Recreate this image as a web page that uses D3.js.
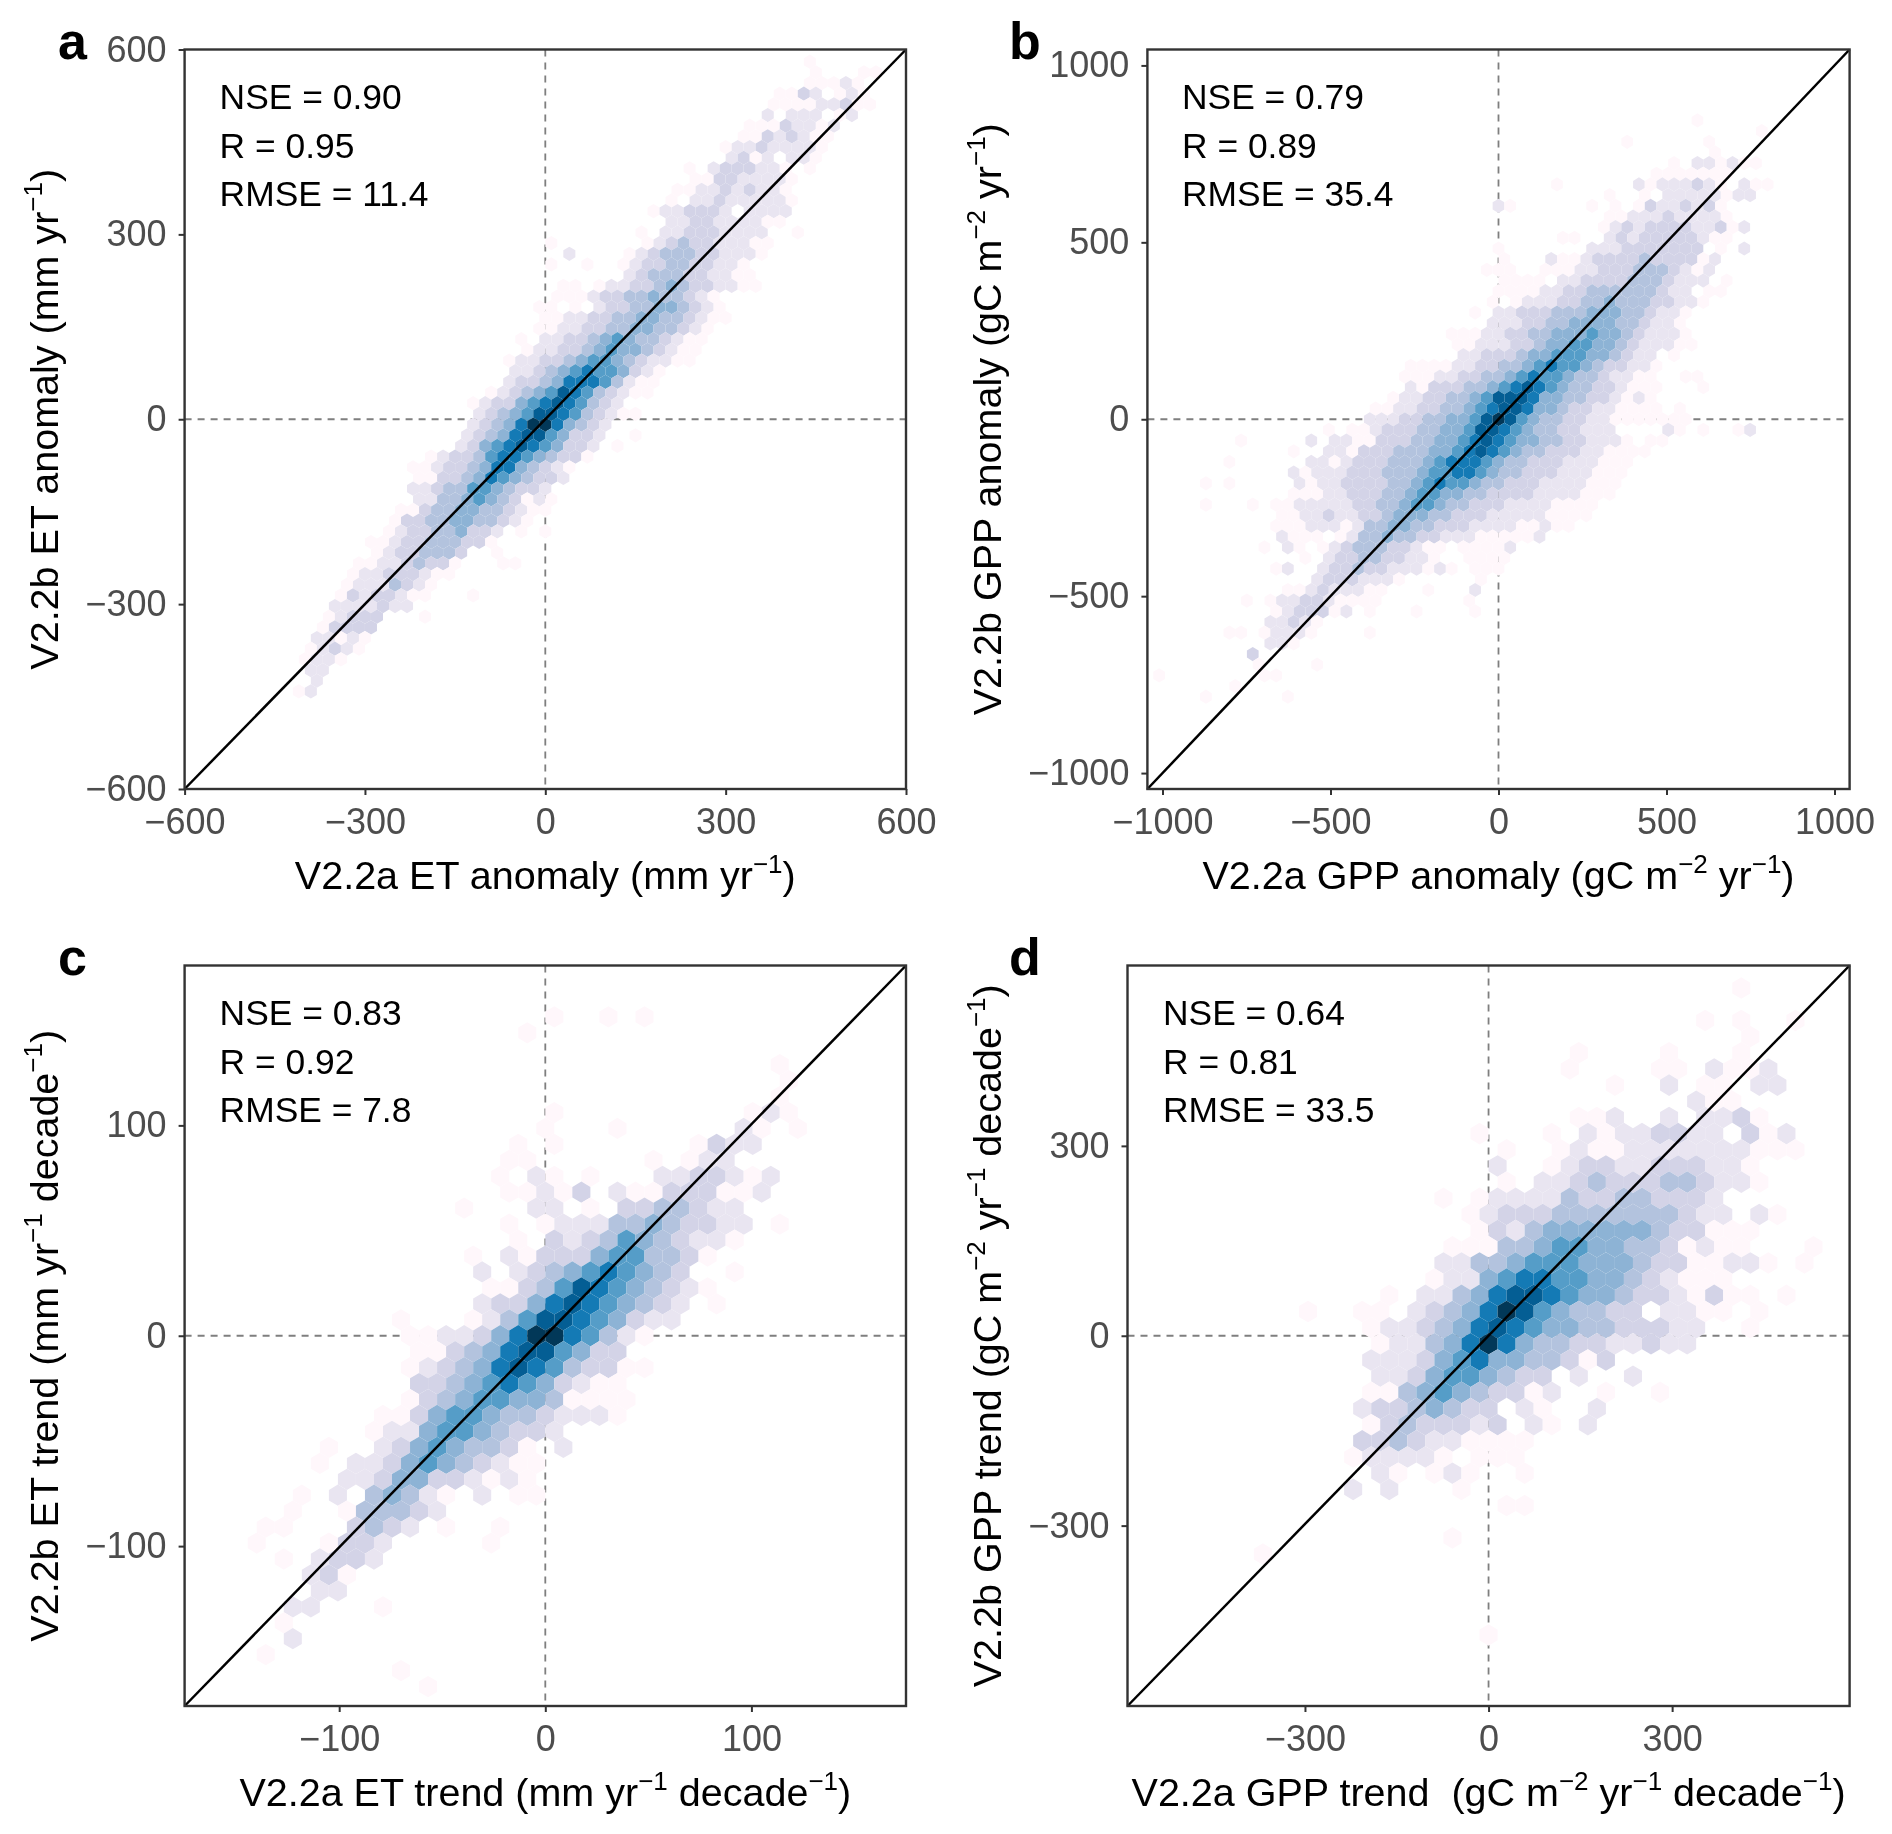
<!DOCTYPE html>
<html>
<head>
<meta charset="utf-8">
<title>V2.2a vs V2.2b</title>
<script src="https://cdn.jsdelivr.net/npm/d3@7"></script>
<style>
  html, body { margin: 0; background: #fff; }
  svg { filter: blur(0.5px); }
  text { font-family: "Liberation Sans", Arial, sans-serif; white-space: pre; }
</style>
</head>
<body>
<svg id="output"></svg>
<script>
// hex cells, one row chunk per entry: [row, first column, density level per column]
// level 0 = empty cell, 1..9 = steps of the PuBu ramp
const hexRowsA = [
  [33,22,"1"],[32,22,"1"],[32,26,"11"],[31,22,"11121"],[30,19,"11320121"],[29,19,"111122311"],
  [28,18,"20222012"],[27,17,"11132212"],[26,16,"11323211"],[25,15,"122322221"],[24,15,"23120221"],
  [23,12,"102333221"],[23,22,"1"],[22,12,"113322221"],[21,11,"1122323221"],[20,10,"10223222221"],
  [19,9,"122333202222"],[18,10,"2233222211"],[17,8,"10223332222001"],[16,0,"1"],[16,8,"12343322211"],
  [15,2,"2"],[15,7,"123444332221"],[14,0,"1"],[14,3,"1"],[14,6,"12334433221"],[13,7,"23444332211"],
  [12,1,"11012233454332211"],[11,1,"11123344544321"],[10,-1,"1101023344554321"],[9,0,"1122334455443211"],
  [8,-1,"112233445544321"],[7,-2,"1022334565443211"],[6,-2,"122334565543211"],[5,-3,"1223345665432211"],
  [4,-3,"2234567665321"],[3,-3,"2334577764211"],[2,-5,"12345687643211"],[1,-6,"1233567876432"],
  [0,-6,"23456887643211"],[-1,-6,"234579975432"],[-2,-7,"234578865332001"],[-3,-7,"23567876533201"],
  [-4,-10,"12334677654331"],[-5,-11,"11233457754321"],[-6,-11,"1133457654332"],[-7,-11,"223446654332"],
  [-8,-11,"224456543121"],[-9,-12,"1134455443211"],[-10,-13,"133445544321"],[-11,-13,"12334453320101"],
  [-12,-15,"11233444331"],[-13,-14,"12334443001"],[-14,-16,"11223433100011"],[-15,-16,"122333211"],
  [-16,-17,"12224321"],[-17,-17,"132332110001"],[-18,-18,"2222322"],[-19,-18,"123330001"],
  [-20,-19,"13333"],[-21,-19,"22121"],[-22,-20,"12321"],[-23,-20,"1221"],[-24,-20,"22"],[-25,-19,"2"],[-26,-21,"12"]
];
const hexRowsB = [
  [28,17,"1"],[27,22,"1"],[26,11,"1"],[26,18,"1"],[25,18,"1"],[24,15,"10221211"],[23,13,"1111111"],
  [22,5,"1"],[22,12,"212223210211"],[21,9,"1"],[21,12,"1022222122"],[20,0,"21"],[20,8,"101013223231"],
  [19,9,"11222322221"],[18,9,"1232333322312"],[17,5,"11"],[17,9,"23233333211"],[16,0,"1"],[16,8,"22233333330102"],
  [15,0,"1"],[15,4,"211233334333312"],[14,-1,"111"],[14,4,"111223334443212"],[13,0,"11110223333444322201"],
  [12,0,"11112233444444322011"],[11,-1,"1012223344544433221"],[10,-2,"1022333444555443221"],
  [9,-1,"22233445555443221"],[8,-4,"111223344555655432221"],[7,-4,"112223345566554322211"],
  [6,-3,"2233345566655432201"],[5,-8,"1111223344567665433221"],[4,-8,"11122334456766544322110011"],
  [3,-8,"21333445678765443321110001"],[2,-9,"12233445688875544332121"],[1,-11,"112233445678875543322111101"],
  [0,-11,"2223344556898654433221111111"],[-1,-15,"1011233344556887654433222"],[-1,14,"21010012"],
  [-2,-22,"1"],[-2,-16,"2022113334455678765544332221011"],[-3,-18,"1002213334445567876544333221111"],
  [-4,-23,"1"],[-4,-16,"2212333444567776544333222111"],[-5,-18,"21222333444566776544333222111"],
  [-6,-25,"101"],[-6,-17,"2122333344567665443332222111"],[-7,-18,"1112233344566554433332222111"],
  [-8,-25,"1"],[-8,-21,"101122222334456654433322221111"],[-9,-19,"112232233455544333222221111"],
  [-10,-19,"11122212445544333222211211"],[-11,-19,"21110124454433222111112"],[-12,-20,"1021012344433211011112"],
  [-13,-17,"102334433221001111"],[-14,-19,"12002334332221210111"],[-15,-16,"23332221"],[-15,-2,"1"],
  [-16,-18,"112322211"],[-16,-6,"1"],[-16,-2,"2"],[-17,-22,"101223321111"],[-17,-3,"1"],
  [-18,-19,"123331201"],[-18,-7,"1"],[-18,-2,"1"],[-19,-20,"22321"],[-20,-23,"11012221"],[-20,-11,"1"],
  [-21,-20,"221"],[-22,-21,"3"],[-23,-21,"100001"],[-24,-29,"1"],[-24,-20,"11"],[-25,-23,"1"],[-26,-25,"1"],[-26,-18,"1"]
];
const hexRowsC = [
  [20,0,"1"],[20,3,"1"],[20,5,"1"],[19,-1,"1"],[17,13,"1"],[16,13,"1"],[15,13,"1"],
  [14,0,"1"],[14,11,"121"],[13,0,"1"],[13,4,"1"],[13,11,"21"],[13,14,"1"],[12,-2,"1"],[12,0,"1"],[12,8,"1322"],
  [11,-2,"11"],[11,6,"10122"],[10,-3,"102101"],[10,6,"2233212"],[9,-2,"112130211333112"],[8,-5,"1"],[8,-1,"220103344322"],
  [7,-2,"1012224454332201"],[6,-2,"1032346543221"],[5,-4,"10213335664431"],[4,-4,"202345676543001"],
  [3,-3,"1134687654321"],[2,-4,"23357876543201"],[1,-8,"1"],[1,-4,"124688765322"],[0,-8,"1"],[0,-7,"1223579976421"],
  [-1,-7,"113457886533"],[-2,-8,"12345787643311"],[-3,-7,"334567653211"],[-4,-8,"1345665541111"],
  [-5,-9,"11356654432221"],[-6,-10,"12256654332"],[-7,-12,"10023565443102"],[-8,-13,"1022356543211"],
  [-9,-11,"22355332121"],[-10,-14,"10204542102011"],[-11,-14,"100144432"],[-12,-16,"11000343201001"],
  [-13,-16,"1"],[-13,-12,"1332"],[-13,-3,"1"],[-14,-15,"102332"],[-15,-13,"231"],[-16,-13,"22"],
  [-17,-14,"220001"],[-18,-15,"1"],[-19,-14,"2"],[-20,-16,"1"],[-21,-8,"1"],[-22,-7,"1"]
];
const hexRowsD = [
  [22,14,"1"],[20,12,"101001"],[19,14,"1"],[18,5,"1"],[18,10,"1"],[18,14,"1"],[17,4,"1"],[17,9,"1102112"],
  [16,7,"1002011022"],[15,11,"211"],[14,5,"11200202231"],[13,-1,"1"],[13,3,"10212233220312"],
  [12,1,"10012112222222111"],[11,0,"200123322333221"],[10,1,"102234333443221"],[9,-3,"1012222433443332"],
  [8,-1,"123334444444322021"],[7,-1,"1324555555433111"],[6,-2,"11144566554431211"],[6,18,"1"],
  [5,-3,"224456665554331122101"],[4,-3,"12256776655432111"],[3,-6,"10224578876554332131101"],[2,-10,"1"],
  [2,-7,"11023457986544330221101"],[1,-7,"1223457876554433322001"],[0,-6,"122457975443322322"],
  [-1,-7,"22235675544313"],[-2,-6,"223566543302002"],[-3,-7,"11456543312001001"],[-4,-7,"23345433021002"],
  [-5,-7,"1343332302102"],[-6,-7,"3343221111"],[-7,-8,"1222210111"],[-8,-6,"210121001"],[-9,-8,"2020001"],
  [-10,1,"11"],[-12,-2,"1"],[-13,-13,"1"],[-18,0,"1"]
];

const ticksA = [-600, -300, 0, 300, 600];
const ticksB = [-1000, -500, 0, 500, 1000];
const ticksC = [-100, 0, 100];
const ticksD = [-300, 0, 300];

const statsA = ["NSE = 0.90", "R = 0.95", "RMSE = 11.4"];
const statsB = ["NSE = 0.79", "R = 0.89", "RMSE = 35.4"];
const statsC = ["NSE = 0.83", "R = 0.92", "RMSE = 7.8"];
const statsD = ["NSE = 0.64", "R = 0.81", "RMSE = 33.5"];

// ^{..} marks a superscript
const xTitles = [
  "V2.2a ET anomaly (mm yr^{\u22121})",
  "V2.2a GPP anomaly (gC m^{\u22122} yr^{\u22121})",
  "V2.2a ET trend (mm yr^{\u22121} decade^{\u22121})",
  "V2.2a GPP trend  (gC m^{\u22122} yr^{\u22121} decade^{\u22121})"
];
const yTitles = [
  "V2.2b ET anomaly (mm yr^{\u22121})",
  "V2.2b GPP anomaly (gC m^{\u22122} yr^{\u22121})",
  "V2.2b ET trend (mm yr^{\u22121} decade^{\u22121})",
  "V2.2b GPP trend (gC m^{\u22122} yr^{\u22121} decade^{\u22121})"
];

const panels = [
  {letter: "a", cells: hexRowsA, ticks: ticksA, stats: statsA, xT: xTitles[0], yT: yTitles[0],
   limX: 600, limY: 600, dx: 20, dy: 17.32, rowOff: 0.5, shiftOdd: false,
   left: 184.6, right: 906, top: 49.5, bottom: 789, statX: 219.6, letterX: 58, yTitleX: 58},
  {letter: "b", cells: hexRowsB, ticks: ticksB, stats: statsB, xT: xTitles[1], yT: yTitles[1],
   limX: 1045, limY: 1045, dx: 34.83, dy: 30.16, rowOff: 0, shiftOdd: true,
   left: 1147.4, right: 1849.6, top: 49.5, bottom: 789, statX: 1182, letterX: 1009, yTitleX: 1001},
  {letter: "c", cells: hexRowsC, ticks: ticksC, stats: statsC, xT: xTitles[2], yT: yTitles[2],
   limX: 175, limY: 176, dx: 8.75, dy: 7.58, rowOff: 0, shiftOdd: false,
   left: 184.6, right: 906, top: 965.5, bottom: 1706, statX: 219.6, letterX: 58, yTitleX: 58},
  {letter: "d", cells: hexRowsD, ticks: ticksD, stats: statsD, xT: xTitles[3], yT: yTitles[3],
   limX: 590, limY: 585, dx: 29.5, dy: 25.55, rowOff: -0.5, shiftOdd: true,
   left: 1127.5, right: 1849.6, top: 965.5, bottom: 1706, statX: 1163, letterX: 1009, yTitleX: 1001}
];

const width = 1892;
const height = 1834;
const svg = d3.select("#output").attr("width", width).attr("height", height)
  .attr("viewBox", [0, 0, width, height]);

// where each level sits on the 9 step PuBu ramp
const levelSteps = [1, 2.1, 2.9, 3.7, 4.5, 5.5, 6.7, 7.8, 9];
const rampColor = d3.scaleLinear().domain(d3.range(1, 10)).range(d3.schemePuBu[9]);
const levelColor = l => rampColor(levelSteps[l - 1]);
const hexLine = d3.line();

function addTitle(sel, str) {
  // splits "text^{sup}text" into tspans
  const parts = str.split(/(\^\{[^}]*\})/).filter(s => s.length);
  let raised = false;
  parts.forEach(p => {
    const sup = p.startsWith("^{");
    const ts = sel.append("tspan").text(sup ? p.slice(2, -1) : p);
    if (sup) {
      ts.attr("font-size", 26).attr("dy", -16);
      raised = true;
    } else if (raised) {
      ts.attr("dy", 16);
      raised = false;
    }
  });
}

function fmt(v) { return v < 0 ? "\u2212" + Math.abs(v) : String(v); }

panels.forEach((p, n) => {
  const x = d3.scaleLinear().domain([-p.limX, p.limX]).range([p.left, p.right]);
  const y = d3.scaleLinear().domain([-p.limY, p.limY]).range([p.bottom, p.top]);
  const g = svg.append("g");

  const clipId = "clip" + n;
  g.append("clipPath").attr("id", clipId).append("rect")
    .attr("x", p.left).attr("y", p.top)
    .attr("width", p.right - p.left).attr("height", p.bottom - p.top);

  // dashed zero lines sit under the hexagons
  g.append("line").attr("x1", x(0)).attr("x2", x(0)).attr("y1", p.top).attr("y2", p.bottom)
    .attr("stroke", "#7f7f7f").attr("stroke-width", 1.8).attr("stroke-dasharray", "7,6");
  g.append("line").attr("x1", p.left).attr("x2", p.right).attr("y1", y(0)).attr("y2", y(0))
    .attr("stroke", "#7f7f7f").attr("stroke-width", 1.8).attr("stroke-dasharray", "7,6");

  // unpack rows into single cells
  const cells = [];
  p.cells.forEach(([row, first, levels]) => {
    const odd = Math.abs(row) % 2 === 1;
    const half = odd === p.shiftOdd ? 0.5 : 0;
    levels.split("").forEach((c, k) => {
      if (c === "0") return;
      cells.push({cx: (first + k + half) * p.dx, cy: (row + p.rowOff) * p.dy, level: +c});
    });
  });

  const r = p.dy * 2 / 3;
  g.append("g").attr("clip-path", "url(#" + clipId + ")")
    .selectAll("path").data(cells).join("path")
    .attr("d", d => hexLine([
      [x(d.cx), y(d.cy + r)],
      [x(d.cx + p.dx / 2), y(d.cy + r / 2)],
      [x(d.cx + p.dx / 2), y(d.cy - r / 2)],
      [x(d.cx), y(d.cy - r)],
      [x(d.cx - p.dx / 2), y(d.cy - r / 2)],
      [x(d.cx - p.dx / 2), y(d.cy + r / 2)]
    ]) + "Z")
    .attr("fill", d => levelColor(d.level));

  // 1:1 line
  g.append("line").attr("x1", x(-p.limX)).attr("y1", y(-p.limY)).attr("x2", x(p.limX)).attr("y2", y(p.limY))
    .attr("stroke", "#000").attr("stroke-width", 2.5);

  g.append("rect").attr("x", p.left).attr("y", p.top)
    .attr("width", p.right - p.left).attr("height", p.bottom - p.top)
    .attr("fill", "none").attr("stroke", "#333").attr("stroke-width", 2.4);

  const xAxis = d3.axisBottom(x).tickValues(p.ticks).tickFormat(fmt).tickSize(6).tickPadding(13);
  const yAxis = d3.axisLeft(y).tickValues(p.ticks).tickFormat(fmt).tickSize(6).tickPadding(12);
  [g.append("g").attr("transform", `translate(0,${p.bottom})`).call(xAxis),
   g.append("g").attr("transform", `translate(${p.left},0)`).call(yAxis)].forEach(a => {
    a.select(".domain").remove();
    a.selectAll("line").attr("stroke", "#333").attr("stroke-width", 2);
    a.selectAll("text").attr("fill", "#4d4d4d").attr("font-size", 36)
      .style("font-family", '"Liberation Sans", Arial, sans-serif');
  });

  p.stats.forEach((s, k) => {
    g.append("text").attr("x", p.statX).attr("y", p.top + 59.5 + k * 48.5)
      .attr("font-size", 35.4).attr("fill", "#000").text(s);
  });

  g.append("text").attr("x", p.letterX).attr("y", p.top + 9)
    .attr("font-size", 52).attr("font-weight", "bold").attr("fill", "#000").text(p.letter);

  const xt = g.append("text").attr("x", (p.left + p.right) / 2).attr("y", p.bottom + 100)
    .attr("text-anchor", "middle").attr("font-size", 39.5).attr("fill", "#000");
  addTitle(xt, p.xT);

  const yt = g.append("text")
    .attr("transform", `translate(${p.yTitleX},${(p.top + p.bottom) / 2}) rotate(-90)`)
    .attr("text-anchor", "middle").attr("font-size", 39.5).attr("fill", "#000");
  addTitle(yt, p.yT);
});
</script>
</body>
</html>
